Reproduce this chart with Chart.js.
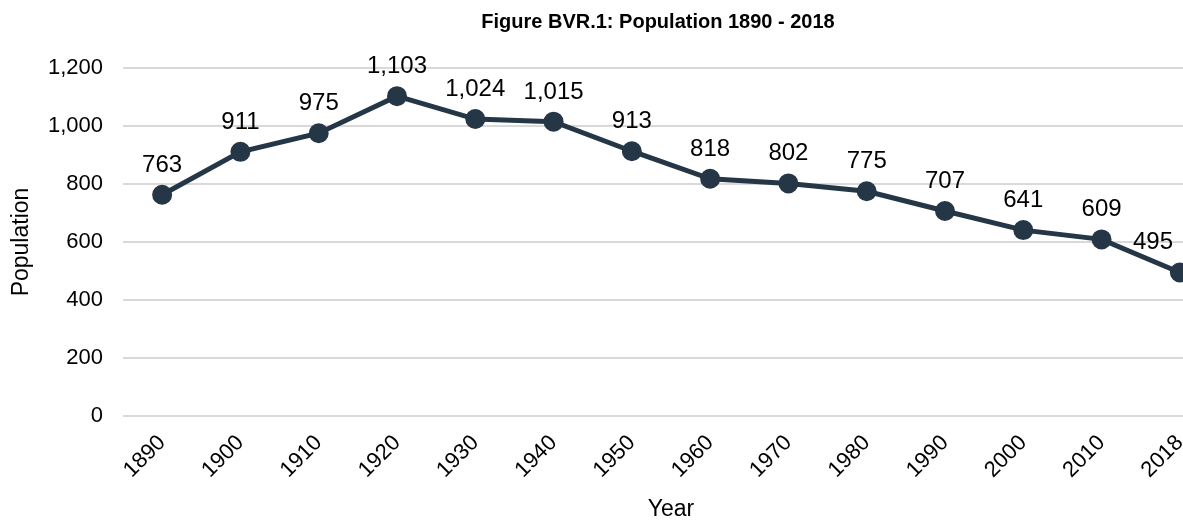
<!DOCTYPE html>
<html>
<head>
<meta charset="utf-8">
<script src="https://cdn.jsdelivr.net/npm/chart.js@4"></script>
<style>
html,body{margin:0;padding:0;overflow:hidden;background:#fff;width:1183px;height:521px;}
#wrap{width:1316px;height:521px;}
</style>
</head>
<body>
<div id="wrap"><canvas id="c" width="1316" height="521"></canvas></div>
<script>
const years = ["1890","1900","1910","1920","1930","1940","1950","1960","1970","1980","1990","2000","2010","2018"];
const population = [763,911,975,1103,1024,1015,913,818,802,775,707,641,609,495];
const yTicks = [0,200,400,600,800,1000,1200];
const chartTitle = "Figure BVR.1: Population 1890 - 2018";

const FONT = "'Liberation Sans', Arial, sans-serif";
const VISIBLE_RIGHT = 1173;
const fmt = v => v.toLocaleString('en-US');

const labelPlugin = {
  id: 'pointLabels',
  afterDatasetsDraw(chart) {
    const ctx = chart.ctx;
    const meta = chart.getDatasetMeta(0);
    ctx.save();
    ctx.font = "24px " + FONT;
    ctx.fillStyle = "#000";
    ctx.textAlign = "center";
    ctx.textBaseline = "alphabetic";
    meta.data.forEach((pt, i) => {
      const txt = fmt(chart.data.datasets[0].data[i]);
      const w = ctx.measureText(txt).width;
      let x = pt.x;
      if (x + w / 2 > VISIBLE_RIGHT) x = VISIBLE_RIGHT - w / 2;
      ctx.fillText(txt, x, pt.y - 23);
    });
    ctx.restore();
  }
};

new Chart(document.getElementById('c'), {
  type: 'line',
  data: {
    labels: years,
    datasets: [{
      data: population,
      borderColor: '#253746',
      backgroundColor: '#253746',
      borderWidth: 5,
      pointRadius: 7.5,
      pointHoverRadius: 7.5,
      pointBackgroundColor: '#253746',
      pointBorderColor: '#253746',
      tension: 0
    }]
  },
  options: {
    responsive: false,
    animation: false,
    devicePixelRatio: 1,
    layout: { padding: 0 },
    plugins: {
      legend: { display: false },
      tooltip: { enabled: false },
      title: {
        display: true,
        text: chartTitle,
        color: '#000',
        font: { family: FONT, size: 20, weight: 'bold' },
        padding: { top: 10, bottom: 34 }
      }
    },
    scales: {
      x: {
        offset: true,
        grid: { display: false, drawTicks: false },
        border: { display: false },
        ticks: {
          color: '#000',
          font: { family: FONT, size: 22 },
          minRotation: 45, maxRotation: 45,
          padding: 14
        },
        title: {
          display: true,
          text: 'Year',
          color: '#000',
          font: { family: FONT, size: 23, lineHeight: 1 },
          padding: { top: 15, bottom: 0 }
        },
        afterFit(scale) { scale.height = 105; }
      },
      y: {
        min: 0, max: 1200,
        afterBuildTicks(scale) { scale.ticks = yTicks.map(v => ({ value: v })); },
        grid: { color: '#d9d9d9', lineWidth: 2, drawTicks: false },
        border: { display: false },
        ticks: {
          color: '#000',
          font: { family: FONT, size: 22 },
          padding: 20,
          callback: v => fmt(v)
        },
        title: {
          display: true,
          text: 'Population',
          color: '#000',
          font: { family: FONT, size: 23 },
          padding: { top: 8, bottom: 0 }
        },
        afterFit(scale) { scale.width = 123; }
      },
      yRight: {
        position: 'right',
        display: true,
        grid: { display: false, drawTicks: false },
        border: { display: false },
        ticks: { display: false },
        afterFit(scale) { scale.width = 97; }
      }
    }
  },
  plugins: [labelPlugin]
});
</script>
</body>
</html>
